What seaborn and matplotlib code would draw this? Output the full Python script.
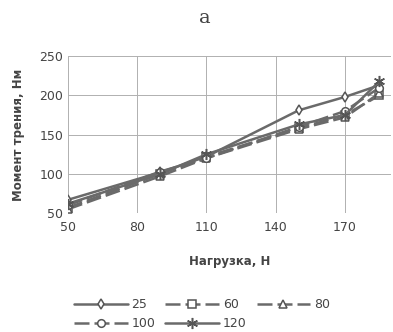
import numpy as np
import pandas as pd
import seaborn as sns
import matplotlib.pyplot as plt

loads = [50, 90, 110, 150, 170, 185]
s25 = [67, 102, 122, 181, 198, 213]
s60 = [57, 100, 122, 158, 175, 200]
s80 = [55, 97, 120, 157, 172, 203]
s100 = [60, 103, 120, 160, 180, 210]
s120 = [62, 100, 125, 163, 175, 218]
series_names = ['25', '60', '80', '100', '120']

df = pd.DataFrame({'load': loads * 5,
                   'moment': s25 + s60 + s80 + s100 + s120,
                   'series': np.repeat(series_names, len(loads))})

sns.set_style('white')
plt.rcParams['font.family'] = ['DejaVu Sans']

fig = plt.figure(figsize=(3.93, 3.32), dpi=100)
ax = fig.add_axes([0.173, 0.358, 0.822, 0.473])

styles = {'25': ('-', 'd', 5.5), '60': ((0, (6, 2)), 's', 5.5),
          '80': ((0, (6, 2)), '^', 5.5), '100': ((0, (6, 2)), 'o', 5.5),
          '120': ('-', (6, 2, 0), 8)}
for name in series_names:
    ls, mk, ms = styles[name]
    sns.lineplot(data=df[df['series'] == name], x='load', y='moment', ax=ax,
                 color='#6a6a6a', linestyle=ls, linewidth=1.8, marker=mk,
                 markersize=ms, markerfacecolor='white', markeredgecolor='#555555',
                 markeredgewidth=1.1, label=name)

ax.set_xlim(50, 190)
ax.set_ylim(50, 250)
ax.set_xticks([50, 80, 110, 140, 170])
ax.set_yticks([50, 100, 150, 200, 250])
ax.grid(True, color='#b0b0b0', linewidth=0.7)
for s in ax.spines.values():
    s.set_visible(False)
ax.tick_params(labelsize=9, colors='#444444', length=0)
ax.tick_params(axis='x', pad=6)
ax.set_xlabel('Нагрузка, Н', fontsize=8.5, fontweight='bold', color='#444444',
              labelpad=15)
ax.set_ylabel('Момент трения, Нм', fontsize=8.5, fontweight='bold', color='#444444',
              labelpad=10)
fig.text(0.52, 0.945, 'a', ha='center', va='center', fontsize=14,
         family='DejaVu Serif', color='#444444')

handles, labels = ax.get_legend_handles_labels()
order = [0, 3, 1, 4, 2]
ax.legend([handles[i] for i in order], [labels[i] for i in order],
          loc='upper center', bbox_to_anchor=(0.415, -0.47),
          ncol=3, frameon=False, fontsize=9, handlelength=4.3, columnspacing=0.8,
          handletextpad=0.3, labelspacing=0.5, labelcolor='#444444')

fig.savefig('out.png', dpi=100)
